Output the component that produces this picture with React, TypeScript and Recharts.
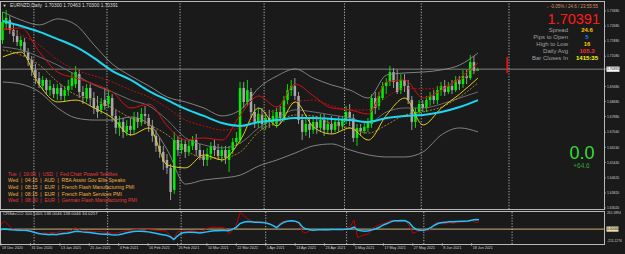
import React from 'react';
import { ComposedChart, Bar, Line, XAxis, YAxis, ReferenceLine } from 'recharts';

// ---------- DATA ----------
// Daily EURNZD candles: [open, high, low, close], 18 Dec 2020 .. 22 Jun 2021
const candles: [number, number, number, number][] = [
  [1.7194, 1.7343, 1.7173, 1.7290], [1.7279, 1.7353, 1.7247, 1.7311], [1.7300, 1.7321, 1.7226, 1.7247],
  [1.7247, 1.7279, 1.7183, 1.7215], [1.7215, 1.7247, 1.7162, 1.7183], [1.7162, 1.7215, 1.7141, 1.7194],
  [1.7183, 1.7205, 1.7109, 1.7130], [1.7130, 1.7151, 1.7056, 1.7088], [1.7088, 1.7109, 1.7003, 1.7035],
  [1.7035, 1.7067, 1.6960, 1.6992], [1.6992, 1.7024, 1.6939, 1.6960], [1.6950, 1.7003, 1.6928, 1.6982],
  [1.6982, 1.6992, 1.6907, 1.6928], [1.6928, 1.6982, 1.6897, 1.6950], [1.6939, 1.6960, 1.6886, 1.6907],
  [1.6907, 1.6960, 1.6875, 1.6939], [1.6939, 1.6960, 1.6875, 1.6897], [1.6897, 1.6950, 1.6865, 1.6928],
  [1.6928, 1.6982, 1.6897, 1.6950], [1.6950, 1.7024, 1.6928, 1.6992], [1.6960, 1.7056, 1.6939, 1.7024],
  [1.7013, 1.7035, 1.6886, 1.6918], [1.6918, 1.6950, 1.6854, 1.6897], [1.6886, 1.6960, 1.6865, 1.6939],
  [1.6939, 1.6960, 1.6844, 1.6886], [1.6886, 1.6918, 1.6801, 1.6833], [1.6844, 1.6897, 1.6780, 1.6812],
  [1.6823, 1.6886, 1.6801, 1.6854], [1.6876, 1.6939, 1.6823, 1.6844], [1.6854, 1.6928, 1.6833, 1.6897],
  [1.6886, 1.6907, 1.6759, 1.6791], [1.6791, 1.6823, 1.6696, 1.6728], [1.6728, 1.6791, 1.6685, 1.6759],
  [1.6759, 1.6780, 1.6674, 1.6706], [1.6706, 1.6770, 1.6685, 1.6738], [1.6738, 1.6780, 1.6685, 1.6717],
  [1.6717, 1.6812, 1.6696, 1.6780], [1.6780, 1.6812, 1.6727, 1.6759], [1.6759, 1.6833, 1.6738, 1.6801],
  [1.6801, 1.6844, 1.6748, 1.6791], [1.6780, 1.6801, 1.6706, 1.6738], [1.6738, 1.6770, 1.6653, 1.6685],
  [1.6685, 1.6717, 1.6600, 1.6632], [1.6632, 1.6674, 1.6568, 1.6600], [1.6600, 1.6632, 1.6504, 1.6547],
  [1.6557, 1.6589, 1.6483, 1.6515], [1.6515, 1.6536, 1.6344, 1.6387], [1.6398, 1.6706, 1.6377, 1.6663],
  [1.6663, 1.6684, 1.6578, 1.6610], [1.6610, 1.6674, 1.6589, 1.6642], [1.6642, 1.6663, 1.6568, 1.6600],
  [1.6600, 1.6663, 1.6578, 1.6632], [1.6632, 1.6684, 1.6610, 1.6663], [1.6663, 1.6695, 1.6578, 1.6610],
  [1.6610, 1.6642, 1.6557, 1.6578], [1.6578, 1.6610, 1.6525, 1.6557], [1.6557, 1.6621, 1.6525, 1.6589],
  [1.6589, 1.6652, 1.6557, 1.6632], [1.6632, 1.6663, 1.6578, 1.6610], [1.6610, 1.6642, 1.6557, 1.6578],
  [1.6578, 1.6632, 1.6546, 1.6610], [1.6610, 1.6632, 1.6536, 1.6568], [1.6557, 1.6632, 1.6493, 1.6610],
  [1.6610, 1.6674, 1.6589, 1.6652], [1.6652, 1.6706, 1.6631, 1.6674], [1.6663, 1.6971, 1.6642, 1.6939],
  [1.6939, 1.6971, 1.6833, 1.6865], [1.6865, 1.6982, 1.6844, 1.6928], [1.6918, 1.6939, 1.6780, 1.6812],
  [1.6812, 1.6854, 1.6727, 1.6759], [1.6759, 1.6833, 1.6727, 1.6801], [1.6801, 1.6833, 1.6717, 1.6748],
  [1.6748, 1.6812, 1.6717, 1.6780], [1.6780, 1.6823, 1.6727, 1.6759], [1.6759, 1.6823, 1.6738, 1.6791],
  [1.6748, 1.6833, 1.6727, 1.6812], [1.6812, 1.6844, 1.6748, 1.6780], [1.6780, 1.6897, 1.6759, 1.6875],
  [1.6875, 1.6960, 1.6854, 1.6928], [1.6928, 1.6982, 1.6897, 1.6950], [1.6950, 1.6992, 1.6875, 1.6897],
  [1.6897, 1.6918, 1.6748, 1.6769], [1.6769, 1.6801, 1.6663, 1.6706], [1.6706, 1.6780, 1.6685, 1.6748],
  [1.6748, 1.6780, 1.6674, 1.6717], [1.6717, 1.6791, 1.6696, 1.6759], [1.6759, 1.6791, 1.6696, 1.6727],
  [1.6727, 1.6801, 1.6706, 1.6769], [1.6769, 1.6801, 1.6685, 1.6717], [1.6717, 1.6780, 1.6696, 1.6748],
  [1.6748, 1.6791, 1.6696, 1.6717], [1.6717, 1.6780, 1.6706, 1.6759], [1.6759, 1.6791, 1.6706, 1.6738],
  [1.6738, 1.6791, 1.6717, 1.6769], [1.6769, 1.6844, 1.6748, 1.6812], [1.6812, 1.6854, 1.6738, 1.6780],
  [1.6780, 1.6801, 1.6653, 1.6674], [1.6674, 1.6748, 1.6632, 1.6727], [1.6727, 1.6748, 1.6685, 1.6711],
  [1.6711, 1.6759, 1.6696, 1.6733], [1.6727, 1.6780, 1.6706, 1.6759], [1.6748, 1.6907, 1.6727, 1.6886],
  [1.6886, 1.6918, 1.6801, 1.6833], [1.6844, 1.6918, 1.6823, 1.6897], [1.6886, 1.6971, 1.6875, 1.6950],
  [1.6950, 1.6992, 1.6907, 1.6971], [1.6971, 1.7056, 1.6950, 1.7024], [1.7024, 1.7045, 1.6939, 1.6971],
  [1.6971, 1.7035, 1.6907, 1.6918], [1.6928, 1.7013, 1.6907, 1.6982], [1.6982, 1.7013, 1.6918, 1.6950],
  [1.6950, 1.6982, 1.6854, 1.6875], [1.6875, 1.6897, 1.6716, 1.6759], [1.6759, 1.6833, 1.6727, 1.6812],
  [1.6812, 1.6875, 1.6790, 1.6854], [1.6854, 1.6875, 1.6812, 1.6833], [1.6833, 1.6897, 1.6812, 1.6875],
  [1.6875, 1.6918, 1.6844, 1.6897], [1.6897, 1.6928, 1.6854, 1.6875], [1.6875, 1.6950, 1.6854, 1.6928],
  [1.6928, 1.6971, 1.6897, 1.6950], [1.6950, 1.6982, 1.6897, 1.6918], [1.6918, 1.6971, 1.6907, 1.6950],
  [1.6950, 1.6982, 1.6907, 1.6928], [1.6928, 1.7003, 1.6918, 1.6982], [1.6982, 1.7003, 1.6928, 1.6960],
  [1.6960, 1.7035, 1.6939, 1.7003], [1.7003, 1.7035, 1.6960, 1.6992], [1.6992, 1.7114, 1.6982, 1.7077],
  [1.7077, 1.7109, 1.7013, 1.7030], [1.70300, 1.70463, 1.70300, 1.70391],
];

// Indicator lines, read every 5th bar (bar 0, 5, 10 ... 130)
const maCyan = [1.7295, 1.7268, 1.7237, 1.7199, 1.7157, 1.7098, 1.7029, 1.6982, 1.6923, 1.6875, 1.6828, 1.6791, 1.6753, 1.6738, 1.6759, 1.6769, 1.6780, 1.6780, 1.6775, 1.6769, 1.6759, 1.6780, 1.6791, 1.6796, 1.6812, 1.6838, 1.6875];
const bandUpper = [1.7343, 1.7300, 1.7274, 1.7306, 1.7274, 1.7167, 1.7066, 1.7003, 1.6950, 1.6891, 1.6865, 1.6833, 1.6791, 1.6823, 1.6939, 1.7003, 1.7040, 1.6992, 1.6955, 1.6928, 1.6886, 1.7008, 1.7019, 1.7024, 1.7035, 1.7061, 1.7125];
const bandMiddle = [1.7157, 1.7141, 1.7104, 1.7061, 1.7008, 1.6955, 1.6918, 1.6875, 1.6844, 1.6769, 1.6674, 1.6637, 1.6621, 1.6647, 1.6727, 1.6780, 1.6823, 1.6812, 1.6796, 1.6780, 1.6753, 1.6812, 1.6833, 1.6833, 1.6854, 1.6886, 1.6918];
const bandLower = [1.6971, 1.6960, 1.6918, 1.6833, 1.6780, 1.6769, 1.6769, 1.6785, 1.6748, 1.6610, 1.6429, 1.6451, 1.6461, 1.6477, 1.6525, 1.6557, 1.6594, 1.6632, 1.6642, 1.6610, 1.6584, 1.6573, 1.6573, 1.6600, 1.6690, 1.6727, 1.6706];
const maRed = [1.7247, 1.7258, 1.7130, 1.7024, 1.6992, 1.6960, 1.6918, 1.6833, 1.6854, 1.6738, 1.6663, 1.6674, 1.6663, 1.6796, 1.6897, 1.6838, 1.6960, 1.6897, 1.6833, 1.6823, 1.6801, 1.6971, 1.6982, 1.6886, 1.6928, 1.6992, 1.7072];
const maRedSlow = [1.7258, 1.7221, 1.7167, 1.7088, 1.7035, 1.7003, 1.6971, 1.6928, 1.6891, 1.6833, 1.6769, 1.6738, 1.6716, 1.6727, 1.6791, 1.6823, 1.6865, 1.6875, 1.6844, 1.6823, 1.6823, 1.6891, 1.6939, 1.6934, 1.6944, 1.6982, 1.7035];
const maYellow = [1.7104, 1.7130, 1.6955, 1.6865, 1.6875, 1.6833, 1.6780, 1.6690, 1.6727, 1.6530, 1.6515, 1.6584, 1.6557, 1.6663, 1.6833, 1.6738, 1.6865, 1.6732, 1.6695, 1.6727, 1.6663, 1.6796, 1.6886, 1.6743, 1.6833, 1.6907, 1.6992];
const maYellowSlow = [1.7141, 1.7114, 1.7061, 1.6971, 1.6902, 1.6875, 1.6833, 1.6780, 1.6743, 1.6690, 1.6610, 1.6568, 1.6568, 1.6600, 1.6706, 1.6759, 1.6796, 1.6791, 1.6748, 1.6727, 1.6700, 1.6743, 1.6796, 1.6812, 1.6838, 1.6891, 1.6966];
const SAMPLE_STEP = 5;

// CCI sub-window, one value per bar
const cciMain = [
  70, 115, 60, 10, -10, -15, -5, -20, -15, -40,
  -75, -60, -55, -60, -45, -55, -35, -50, -40, -30,
  20, 10, -30, -20, -35, -30, -40, -35, -45, -40,
  -55, -60, -50, -35, -25, -20, -10, -5, -10, -15,
  -5, -10, -15, -20, -25, -30, -90, -140, -40, -30,
  -25, -30, -20, -35, -40, -25, 10, 25, 30, 25,
  28, 10, -70, -20, 60, 240, 200, 150, 120, 105,
  100, 105, 95, 80, 55, 30, 95, 115, 120, 125,
  110, 80, -40, -55, -20, -15, -10, -5, -15, -10,
  -5, 0, -5, 5, 10, 40, 130, -120, -100, -80,
  -70, 15, 40, 65, 80, 100, 125, 120, 105, 120,
  112, 55, -60, -40, -20, 0, -30, 15, 80, 100,
  75, 85, 95, 80, 105, 100, 105, 110, 125, 95,
  100,
];
const cciSignal = [
  -5, 0, -5, -10, -12, -15, -15, -20, -30, -45,
  -60, -70, -75, -80, -75, -80, -70, -65, -60, -50,
  -35, -30, -40, -45, -50, -55, -65, -70, -75, -70,
  -80, -85, -80, -70, -55, -45, -35, -30, -30, -35,
  -40, -50, -60, -70, -80, -90, -110, -150, -100, -60,
  -50, -45, -45, -50, -55, -50, -40, -30, -25, -25,
  -20, -20, -25, 0, 25, 80, 100, 110, 105, 100,
  100, 95, 90, 75, 50, 20, 70, 100, 115, 120,
  115, 95, 30, 0, -10, -15, -10, -10, -10, -8,
  -5, -5, -5, -5, 0, 5, 30, -15, -25, -30,
  -25, -10, 5, 30, 60, 80, 105, 120, 120, 125,
  120, 95, 30, -5, -15, -15, 0, 25, 60, 85,
  95, 100, 105, 105, 110, 112, 115, 118, 128, 138,
  134,
];

const TOTAL_SLOTS = 165; // bars + empty future space
const xTickIdx = [0, 8, 16, 24, 32, 40, 48, 56, 64, 72, 80, 88, 96, 104, 112, 120, 128];
const xTickLabels = ['18 Dec 2020', '31 Dec 2020', '13 Jan 2021', '25 Jan 2021', '4 Feb 2021', '16 Feb 2021', '26 Feb 2021', '10 Mar 2021', '22 Mar 2021', '1 Apr 2021', '13 Apr 2021', '23 Apr 2021', '5 May 2021', '17 May 2021', '27 May 2021', '8 Jun 2021', '18 Jun 2021'];
const monthStartIdx = [9, 29, 49, 72, 94, 115, 139];
const priceTicks = [1.7348, 1.7268, 1.7188, 1.7108, 1.70391, 1.6948, 1.6868, 1.6788, 1.6704, 1.6624, 1.6544, 1.6462, 1.6382, 1.6302];
const PRICE_DOMAIN: [number, number] = [1.629669, 1.739578];
const CCI_MAX = 261.5894;
const CCI_MIN = -215.1276;
const lastPrice = 1.70391;
const timerMarker = { idx: 138, from: 1.7104, to: 1.7019 };

const newsLines = [
  { text: 'Tue  |  19:00  |  USD  |  Fed Chair Powell Testifies', high: true },
  { text: 'Wed  |  04:15  |  AUD  |  RBA Assist Gov Ellis Speaks', high: false },
  { text: 'Wed  |  08:15  |  EUR  |  French Flash Manufacturing PMI', high: false },
  { text: 'Wed  |  08:15  |  EUR  |  French Flash Services PMI', high: false },
  { text: 'Wed  |  08:30  |  EUR  |  German Flash Manufacturing PMI', high: true },
];
const infoLabels = ['Spread', 'Pips to Open', 'High to Low', 'Daily Avg', 'Bar Closes In'];
const infoValues = ['24.6', '5', '16', '105.3', '1415:35'];
const infoColors = ['#ffc400', '#1f7fff', '#ffc400', '#ff2a2a', '#ffff00'];

// ---------- STYLE ----------
const BG = '#1a1a1a';
const AXIS_C = '#cfcfcf';
const BORDER = '#b8b8b8';
const BULL = '#00f000';
const BEAR = '#a8a8a8';
const FONT = '"Liberation Sans", Arial, sans-serif';

// ---------- TABLES ----------
const pick = (arr: number[], i: number) =>
  i % SAMPLE_STEP === 0 && i / SAMPLE_STEP < arr.length ? arr[i / SAMPLE_STEP] : null;

const mainData = Array.from({ length: TOTAL_SLOTS }, (_, i) => {
  const c = candles[i];
  return {
    i,
    range: c ? [c[2], c[1]] : null,
    o: c ? c[0] : null,
    h: c ? c[1] : null,
    l: c ? c[2] : null,
    cl: c ? c[3] : null,
    cyan: pick(maCyan, i),
    up: pick(bandUpper, i),
    mid: pick(bandMiddle, i),
    lo: pick(bandLower, i),
    red: pick(maRed, i),
    redS: pick(maRedSlow, i),
    yel: pick(maYellow, i),
    yelS: pick(maYellowSlow, i),
  };
});

const subData = Array.from({ length: TOTAL_SLOTS }, (_, i) => ({
  i,
  cci: i < cciMain.length ? cciMain[i] : null,
  sig: i < cciSignal.length ? cciSignal[i] : null,
}));

// ---------- SHAPES ----------
const Candle = (props: any) => {
  const { x, y, width, height, payload } = props;
  if (!payload || payload.range == null) return null;
  let top = y;
  let hgt = height;
  if (hgt < 0) { top = y + hgt; hgt = -hgt; }
  const { o, h, l, cl } = payload;
  const color = cl >= o ? BULL : BEAR;
  const cx = x + width / 2;
  const span = h - l;
  const k = span > 0 ? hgt / span : 0;
  const bTop = top + (h - Math.max(o, cl)) * k;
  const bBot = top + (h - Math.min(o, cl)) * k;
  const bw = 2.5;
  return (
    <g>
      <line x1={cx} x2={cx} y1={top} y2={top + hgt} stroke={color} strokeWidth={0.9} />
      <rect x={cx - bw / 2} y={bTop} width={bw} height={Math.max(bBot - bTop, 0.8)} fill={color} />
    </g>
  );
};

const PriceTick = (props: any) => {
  const { x, y, payload } = props;
  const v = payload.value;
  const isLast = Math.abs(v - lastPrice) < 1e-7;
  return (
    <g>
      <line x1={x - 3} x2={x - 1} y1={y} y2={y} stroke={AXIS_C} strokeWidth={0.6} />
      {isLast && <rect x={x - 0.5} y={y - 2.6} width={13} height={5.2} fill="#ffffff" />}
      <text x={x} y={y} dy={1.2} fontSize={3.4} fontFamily={FONT} fill={isLast ? '#000' : AXIS_C}>
        {v.toFixed(5)}
      </text>
    </g>
  );
};

const CciTick = (props: any) => {
  const { x, y, payload } = props;
  const v = payload.value;
  const isZero = v === 0;
  const dy = v === CCI_MAX ? 3 : v === CCI_MIN ? -2.2 : 1.2;
  const label = isZero ? '0.00000' : v.toFixed(4);
  return (
    <g>
      {isZero && <rect x={x - 0.5} y={y - 2.6} width={12} height={5.2} fill="#efe0b0" />}
      <text x={x} y={y} dy={dy} fontSize={3.3} fontFamily={FONT} fill={isZero ? '#000' : AXIS_C}>
        {label}
      </text>
    </g>
  );
};

const DateTick = (props: any) => {
  const { x, y, payload } = props;
  const k = xTickIdx.indexOf(payload.value);
  if (k < 0) return null;
  return (
    <g>
      <line x1={x} x2={x} y1={y - 1} y2={y + 2} stroke={AXIS_C} strokeWidth={0.6} />
      <text x={x + 1} y={y + 4.8} fontSize={3.7} fontFamily={FONT} fill={AXIS_C}>
        {xTickLabels[k]}
      </text>
    </g>
  );
};

const lineCommon = { dot: false, isAnimationActive: false, connectNulls: true, activeDot: false } as any;

export default function App() {
  return (
    <div style={{ position: 'absolute', left: 0, top: 0, width: 625, height: 254, background: BG, overflow: 'hidden' }}>
      <div style={{ position: 'absolute', left: 0, top: 0 }}>
        <ComposedChart width={625} height={210} data={mainData} margin={{ top: 2, right: 0, left: 1, bottom: 1 }} barCategoryGap={0}>
          <XAxis dataKey="i" hide />
          <YAxis
            orientation="right"
            width={21}
            domain={PRICE_DOMAIN}
            allowDataOverflow
            ticks={priceTicks}
            interval={0}
            tickSize={2}
            tickMargin={1}
            axisLine={false}
            tickLine={false}
            tick={<PriceTick />}
          />
          {monthStartIdx.map((m) => (
            <ReferenceLine key={'m' + m} x={m} position="start" stroke="#d8d8d8" strokeWidth={0.8} strokeDasharray="1.2 1.6" />
          ))}
          <ReferenceLine y={lastPrice} stroke="#9c9c9c" strokeWidth={0.8} />
          <Bar dataKey="range" barSize={3} shape={<Candle />} isAnimationActive={false} />
          <Line dataKey="up" stroke="#8c8c8c" strokeWidth={0.9} type="monotone" {...lineCommon} />
          <Line dataKey="lo" stroke="#8c8c8c" strokeWidth={0.9} type="monotone" {...lineCommon} />
          <Line dataKey="mid" stroke="#767676" strokeWidth={0.9} type="monotone" {...lineCommon} />
          <Line dataKey="yelS" stroke="#b88a2c" strokeWidth={0.9} strokeDasharray="2 1.5" type="monotone" {...lineCommon} />
          <Line dataKey="redS" stroke="#c41010" strokeWidth={0.9} strokeDasharray="2 1.5" type="monotone" {...lineCommon} />
          <Line dataKey="yel" stroke="#e2cf1a" strokeWidth={1} type="monotone" {...lineCommon} />
          <Line dataKey="red" stroke="#d81010" strokeWidth={1} type="monotone" {...lineCommon} />
          <Line dataKey="cyan" stroke="#1cd6f2" strokeWidth={2} type="monotone" {...lineCommon} />
          <ReferenceLine
            segment={[{ x: timerMarker.idx, y: timerMarker.from }, { x: timerMarker.idx, y: timerMarker.to }]}
            stroke="#ff1010"
            strokeWidth={1.5}
          />
        </ComposedChart>
      </div>
      <div style={{ position: 'absolute', left: 0, top: 210 }}>
        <ComposedChart width={625} height={44} data={subData} margin={{ top: 1, right: 0, left: 1, bottom: 0 }}>
          <XAxis
            dataKey="i"
            height={10}
            ticks={xTickIdx}
            interval={0}
            axisLine={false}
            tickLine={false}
            tickSize={0}
            tickMargin={0}
            tick={<DateTick />}
          />
          <YAxis
            orientation="right"
            width={21}
            domain={[CCI_MIN, CCI_MAX]}
            allowDataOverflow
            ticks={[CCI_MAX, 0, CCI_MIN]}
            interval={0}
            tickSize={2}
            tickMargin={1}
            axisLine={false}
            tickLine={false}
            tick={<CciTick />}
          />
          {monthStartIdx.map((m) => (
            <ReferenceLine key={'s' + m} x={m} position="start" stroke="#d8d8d8" strokeWidth={0.8} strokeDasharray="1.2 1.6" />
          ))}
          <ReferenceLine y={0} stroke="#c9b47c" strokeWidth={1} />
          <Line dataKey="cci" stroke="#c00000" strokeWidth={1} type="linear" {...lineCommon} />
          <Line dataKey="sig" stroke="#1ec4ff" strokeWidth={1.5} type="linear" {...lineCommon} />
        </ComposedChart>
      </div>
      <svg width={625} height={254} style={{ position: 'absolute', left: 0, top: 0, pointerEvents: 'none' }} fontFamily={FONT}>
        <rect x={0.5} y={1.5} width={604} height={208} fill="none" stroke={BORDER} strokeWidth={1} />
        <rect x={0.5} y={211.5} width={604} height={33} fill="none" stroke={BORDER} strokeWidth={1} />
        <text x={2.5} y={6.8} fontSize={4} fill="#e0e0e0">▼</text>
        <text x={10} y={6.8} fontSize={4.8} fill="#dcdcdc" xmlSpace="preserve">EURNZD,Daily  1.70300 1.70463 1.70300 1.70391</text>
        <text x={598} y={8.3} fontSize={4.5} fill="#d89060" textAnchor="end">↓ -0.05% / 24.6 / 23:55:55</text>
        <text x={600} y={23.6} fontSize={14.5} fill="#ff1a1a" textAnchor="end">1.70391</text>
        {infoLabels.map((t, k) => (
          <text key={t} x={568} y={31.6 + k * 7.15} fontSize={6} fill="#a0a0a0" textAnchor="end">{t}</text>
        ))}
        {infoValues.map((t, k) => (
          <text key={'v' + k} x={587} y={31.6 + k * 7.15} fontSize={6} fontWeight="bold" fill={infoColors[k]} textAnchor="middle">{t}</text>
        ))}
        <text x={582} y={159} fontSize={18} fill="#35dd35" textAnchor="middle">0.0</text>
        <text x={581.5} y={168.3} fontSize={6.5} fill="#2ea82e" textAnchor="middle">+64.6</text>
        {newsLines.map((n, k) => (
          <text key={'n' + k} x={8} y={175.8 + k * 6.67} fontSize={5} fill={n.high ? '#e23a3a' : '#f2ae44'} xmlSpace="preserve">{n.text}</text>
        ))}
        <text x={3} y={215} fontSize={4.3} fill="#d4d4d4">CR8dsCCI 100.5405 138.0046 138.0046 34.0257</text>
      </svg>
    </div>
  );
}
